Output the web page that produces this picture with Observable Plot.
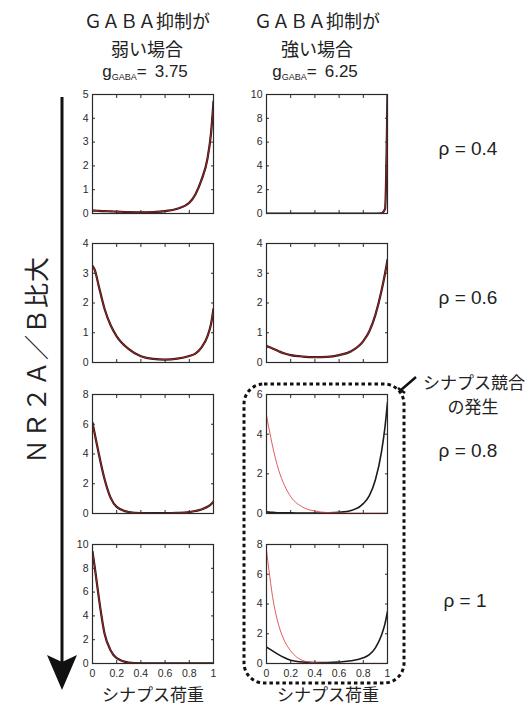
<!DOCTYPE html>
<html><head><meta charset="utf-8">
<script src="https://cdn.jsdelivr.net/npm/d3@7"></script>
<script src="https://cdn.jsdelivr.net/npm/@observablehq/plot@0.6"></script>
<style>
body{margin:0;background:#fff;}
#fig{position:relative;width:531px;height:707px;overflow:hidden;font-family:"Noto Sans CJK JP",sans-serif;color:#222;background:#fff}
.t{position:absolute;white-space:nowrap;line-height:1;transform:translate(-50%,-50%)}
.jp{font-family:"Noto Sans CJK JP",sans-serif;font-size:17px}
.lat{font-family:"Liberation Sans",Arial,sans-serif}
sub{font-size:9px;vertical-align:-3px;line-height:0}
</style></head><body><div id="fig"></div>
<script>
// ---- data ----
const weights = [0,0.02,0.05,0.1,0.15,0.2,0.3,0.4,0.5,0.6,0.7,0.8,0.85,0.9,0.95,0.98,1];
const xTicks = [0,0.2,0.4,0.6,0.8,1];
const xTickLabels = ["0","0.2","0.4","0.6","0.8","1"];
const rhoLabels = ["ρ = 0.4","ρ = 0.6","ρ = 0.8","ρ = 1"];
const colHead1 = ["ＧＡＢＡ抑制が","ＧＡＢＡ抑制が"];
const colHead2 = ["弱い場合","強い場合"];
const gabaValues = ["3.75","6.25"];
const xTitle = "シナプス荷重";
const sideTitle = "ＮＲ２Ａ／Ｂ比大";
const boxNote = ["シナプス競合","の発生"];

const yMaxWeak = [5,4,8,10];
const yMaxStrong = [10,4,6,8];
const yTicksWeak = [[0,1,2,3,4,5],[0,1,2,3,4],[0,2,4,6,8],[0,2,4,6,8,10]];
const yTicksStrong = [[0,2,4,6,8,10],[0,1,2,3,4],[0,2,4,6],[0,2,4,6,8]];

const weak04 = [0.12,0.12,0.11,0.1,0.09,0.08,0.06,0.05,0.06,0.1,0.2,0.45,0.8,1.4,2.3,3.4,4.7];
const strong04 = [0,0,0,0,0,0,0,0,0,0,0,0,0,0,0.02,0.4,10];
const weak06 = [3.25,3.1,2.6,1.8,1.25,0.88,0.45,0.21,0.12,0.1,0.13,0.22,0.3,0.5,0.88,1.3,1.8];
const strong06 = [0.55,0.52,0.47,0.38,0.3,0.25,0.2,0.18,0.19,0.25,0.38,0.72,1.05,1.6,2.4,3.0,3.45];
const weak08 = [6.1,5.3,4.1,2.3,1.05,0.45,0.1,0.03,0.02,0.02,0.04,0.1,0.17,0.27,0.45,0.62,0.8];
const strong08Black = [0.08,0.07,0.06,0.04,0.03,0.03,0.02,0.02,0.03,0.06,0.15,0.5,0.9,1.7,3.1,4.4,5.6];
const strong08Red = [4.95,4.3,3.4,2.2,1.4,0.85,0.32,0.12,0.05,0.03,0.02,0.02,0.02,0.02,0.02,0.02,0.02];
const weak10 = [9.4,8.0,5.7,2.5,1.1,0.45,0.08,0.02,0.01,0.01,0.01,0.01,0.01,0.01,0.01,0.01,0.01];
const strong10Black = [1.1,1.0,0.85,0.6,0.38,0.22,0.1,0.07,0.07,0.1,0.18,0.38,0.6,1.05,1.9,2.7,3.5];
const strong10Red = [7.6,6.3,4.5,2.6,1.5,0.85,0.2,0.05,0.02,0.01,0.01,0.01,0.01,0.01,0.01,0.01,0.01];

const panels = [
  {row:0,col:0,black:weak04,red:weak04,yMax:yMaxWeak[0],yTicks:yTicksWeak[0]},
  {row:0,col:1,black:strong04,red:strong04,yMax:yMaxStrong[0],yTicks:yTicksStrong[0]},
  {row:1,col:0,black:weak06,red:weak06,yMax:yMaxWeak[1],yTicks:yTicksWeak[1]},
  {row:1,col:1,black:strong06,red:strong06,yMax:yMaxStrong[1],yTicks:yTicksStrong[1]},
  {row:2,col:0,black:weak08,red:weak08,yMax:yMaxWeak[2],yTicks:yTicksWeak[2]},
  {row:2,col:1,black:strong08Black,red:strong08Red,yMax:yMaxStrong[2],yTicks:yTicksStrong[2],split:true},
  {row:3,col:0,black:weak10,red:weak10,yMax:yMaxWeak[3],yTicks:yTicksWeak[3]},
  {row:3,col:1,black:strong10Black,red:strong10Red,yMax:yMaxStrong[3],yTicks:yTicksStrong[3],split:true}
];

// ---- layout ----
const fig = document.getElementById("fig");
const frameW = 121, frameH = 119;
const colX = [92, 266];
const rowY = [94, 243, 394, 544];
const ink = "#2a2a2a";

panels.forEach(p => {
  const bottom = p.row === 3;
  const ml = 30, mr = 4, mt = 6, mb = bottom ? 24 : 4;
  const data = weights.map((w,i)=>({w, black:p.black[i], red:p.red[i]}));
  const chart = Plot.plot({
    width: frameW+ml+mr, height: frameH+mt+mb,
    marginLeft: ml, marginRight: mr, marginTop: mt, marginBottom: mb,
    x: {domain:[0,1]}, y: {domain:[0,p.yMax]},
    style: {fontFamily:"Liberation Sans, Arial, sans-serif", fontSize:"10.5px", color:ink, background:"transparent", overflow:"visible"},
    marks: [
      Plot.axisY(p.yTicks, {anchor:"left", tickSize:-3, fill:"none", label:null, stroke:ink}),
      Plot.axisY(p.yTicks, {anchor:"right", tickSize:-3, fill:"none", label:null, stroke:ink}),
      Plot.axisX(xTicks, {anchor:"bottom", tickSize:-3, fill:"none", label:null, stroke:ink}),
      Plot.axisX(xTicks, {anchor:"top", tickSize:-3, fill:"none", label:null, stroke:ink}),
      Plot.axisY(p.yTicks, {anchor:"left", tickSize:0, tickPadding:4, label:null, fill:ink}),
      bottom ? Plot.axisX(xTicks, {anchor:"bottom", tickSize:0, tickPadding:6, label:null, fill:ink, tickFormat:(d,i)=>xTickLabels[i]}) : null,
      Plot.line(data, {x:"w", y:"black", stroke:"#1a1a1a", strokeWidth: p.split ? 1.6 : 2.2, curve:"monotone-x", clip:true}),
      Plot.line(data, {x:"w", y:"red", stroke: p.split ? "#e04848" : "#a02020", strokeWidth: p.split ? 0.9 : 1.1, curve:"monotone-x", clip:true}),
      Plot.frame({stroke:ink, strokeWidth:1.2})
    ]
  });
  chart.style.position = "absolute";
  chart.style.left = (colX[p.col]-ml)+"px";
  chart.style.top = (rowY[p.row]-mt)+"px";
  fig.appendChild(chart);
});

function addText(html, x, y, cls, extra) {
  const d = document.createElement("div");
  d.className = "t " + cls;
  d.innerHTML = html;
  d.style.left = x+"px"; d.style.top = y+"px";
  if (extra) Object.assign(d.style, extra);
  fig.appendChild(d);
  return d;
}
const headX = [147, 317];
[0,1].forEach(c => {
  addText(colHead1[c], headX[c], 20, "jp", {fontSize:"18px"});
  addText(colHead2[c], headX[c], 48, "jp", {fontSize:"18px"});
  addText("g<sub>GABA</sub>= "+"&thinsp;"+gabaValues[c], headX[c]-2, 71, "lat", {fontSize:"17px"});
  addText(xTitle, [153,328][c], 693, "jp", {fontSize:"17px"});
});
const rhoY = [148, 297, 450, 600];
rhoLabels.forEach((r,i)=> addText(r, i===3 ? 465 : 468, rhoY[i], "lat", {fontSize:"19px"}));
addText(boxNote[0], 474, 381, "jp", {fontSize:"17px"});
addText(boxNote[1], 473, 405, "jp", {fontSize:"17px"});
addText(sideTitle, 35, 360, "jp", {fontSize:"25px", transform:"translate(-50%,-50%) rotate(-90deg)", letterSpacing:"1px"});

// ---- overlay: arrow and dashed box ----
const svg = d3.select(fig).append("svg")
  .attr("width",531).attr("height",707)
  .style("position","absolute").style("left","0px").style("top","0px").style("pointer-events","none");
svg.append("line").attr("x1",62).attr("x2",62).attr("y1",97).attr("y2",662)
  .attr("stroke","#111").attr("stroke-width",3);
svg.append("path").attr("d","M47,655 L62,662 L77,655 L62,690 Z").attr("fill","#111");
svg.append("rect").attr("x",244).attr("y",384).attr("width",160).attr("height",299).attr("rx",20)
  .attr("fill","none").attr("stroke","#111").attr("stroke-width",3).attr("stroke-dasharray","3.5,3");
svg.append("path").attr("d","M398,388 L405,393 M401,390 L416,377").attr("stroke","#111").attr("stroke-width",2.5).attr("fill","none");
</script></body></html>
